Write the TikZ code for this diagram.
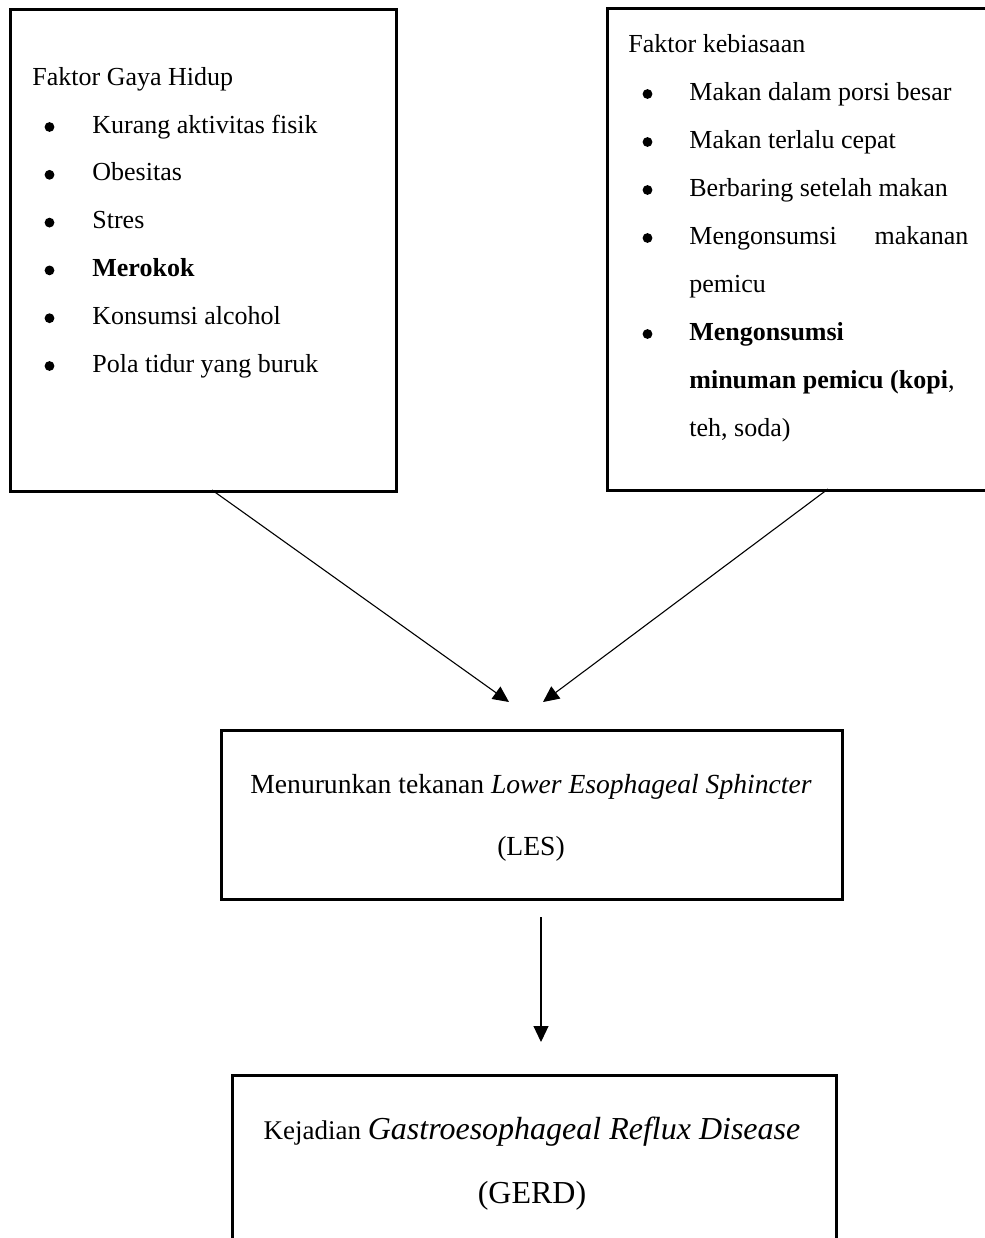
\documentclass[tikz,border=0pt]{standalone}
\usepackage{fontspec}
\setmainfont{Liberation Serif}
\usetikzlibrary{arrows.meta}
\begin{document}
\begin{tikzpicture}[x=0.5pt,y=-0.5pt,
  box/.style={draw,line width=1.7pt,rectangle,inner sep=0pt,anchor=north west},
  txt/.style={anchor=base west,inner sep=0pt,font=\fontsize{13}{15}\selectfont},
  dot/.style={circle,fill,inner sep=0pt,minimum size=4.9pt},
  ctr/.style={anchor=base,inner sep=0pt},
  arr/.style={line width=0.55pt,-{Triangle[length=8pt,width=7.5pt]}}]
\useasboundingbox (0,0) rectangle (985,1238);

% boxes
\node[box,minimum width=193pt,minimum height=241pt] (gaya) at (9,8) {};
\node[box,minimum width=197pt,minimum height=241pt] (kebi) at (606,7) {};
\node[box,minimum width=310.5pt,minimum height=84.5pt] (les) at (220,729) {};
\node[box,minimum width=302pt,minimum height=95pt] (gerd) at (231,1074) {};

% left box text
\node[txt] (g0) at (32,85) {Faktor Gaya Hidup};
\node[dot] (gb1) at (49.5,127) {};
\node[txt] (g1) at (92,133) {Kurang aktivitas fisik};
\node[dot] (gb2) at (49.5,174.8) {};
\node[txt] (g2) at (92,180.8) {Obesitas};
\node[dot] (gb3) at (49.5,222.6) {};
\node[txt] (g3) at (92,228.6) {Stres};
\node[dot] (gb4) at (49.5,270.4) {};
\node[txt] (g4) at (92,276.4) {\bfseries Merokok};
\node[dot] (gb5) at (49.5,318.2) {};
\node[txt] (g5) at (92,324.2) {Konsumsi alcohol};
\node[dot] (gb6) at (49.5,366) {};
\node[txt] (g6) at (92,372) {Pola tidur yang buruk};

% right box text
\node[txt] (k0) at (628,52) {Faktor kebiasaan};
\node[dot] (kb1) at (647.5,94) {};
\node[txt] (k1) at (689,100) {Makan dalam porsi besar};
\node[dot] (kb2) at (647.5,142) {};
\node[txt] (k2) at (689,148) {Makan terlalu cepat};
\node[dot] (kb3) at (647.5,190) {};
\node[txt] (k3) at (689,196) {Berbaring setelah makan};
\node[dot] (kb4) at (647.5,238) {};
\node[txt] (k4) at (689,244) {\makebox[139.5pt][s]{Mengonsumsi makanan}};
\node[txt] (k5) at (689,292) {pemicu};
\node[dot] (kb5) at (647.5,334) {};
\node[txt] (k6) at (689,340) {\bfseries Mengonsumsi};
\node[txt] (k7) at (689,388) {\textbf{minuman pemicu (kopi},};
\node[txt] (k8) at (689,436) {teh, soda)};

% LES box text
\node[ctr,font=\fontsize{13.8}{16}\selectfont] (l0) at (531,793) {Menurunkan tekanan \textit{Lower Esophageal Sphincter}};
\node[ctr,font=\fontsize{13.8}{16}\selectfont] (l1) at (531,855) {(LES)};

% GERD box text
\node[ctr] (e0) at (532,1139) {{\fontsize{13.5}{16}\selectfont Kejadian }{\fontsize{16}{18}\selectfont\itshape Gastroesophageal Reflux Disease}};
\node[ctr,font=\fontsize{16}{18}\selectfont] (e1) at (532,1203) {(GERD)};

% connectors
\coordinate (ga) at (212,490);
\coordinate (ka) at (828,489);
\coordinate (la) at (509,702);
\coordinate (lb) at (543,702);
\coordinate (lc) at (541,917);
\coordinate (ea) at (541,1042);
\draw[arr] (ga) -- (la);
\draw[arr] (ka) -- (lb);
\draw[arr] (lc) -- (ea);
\end{tikzpicture}
\end{document}
